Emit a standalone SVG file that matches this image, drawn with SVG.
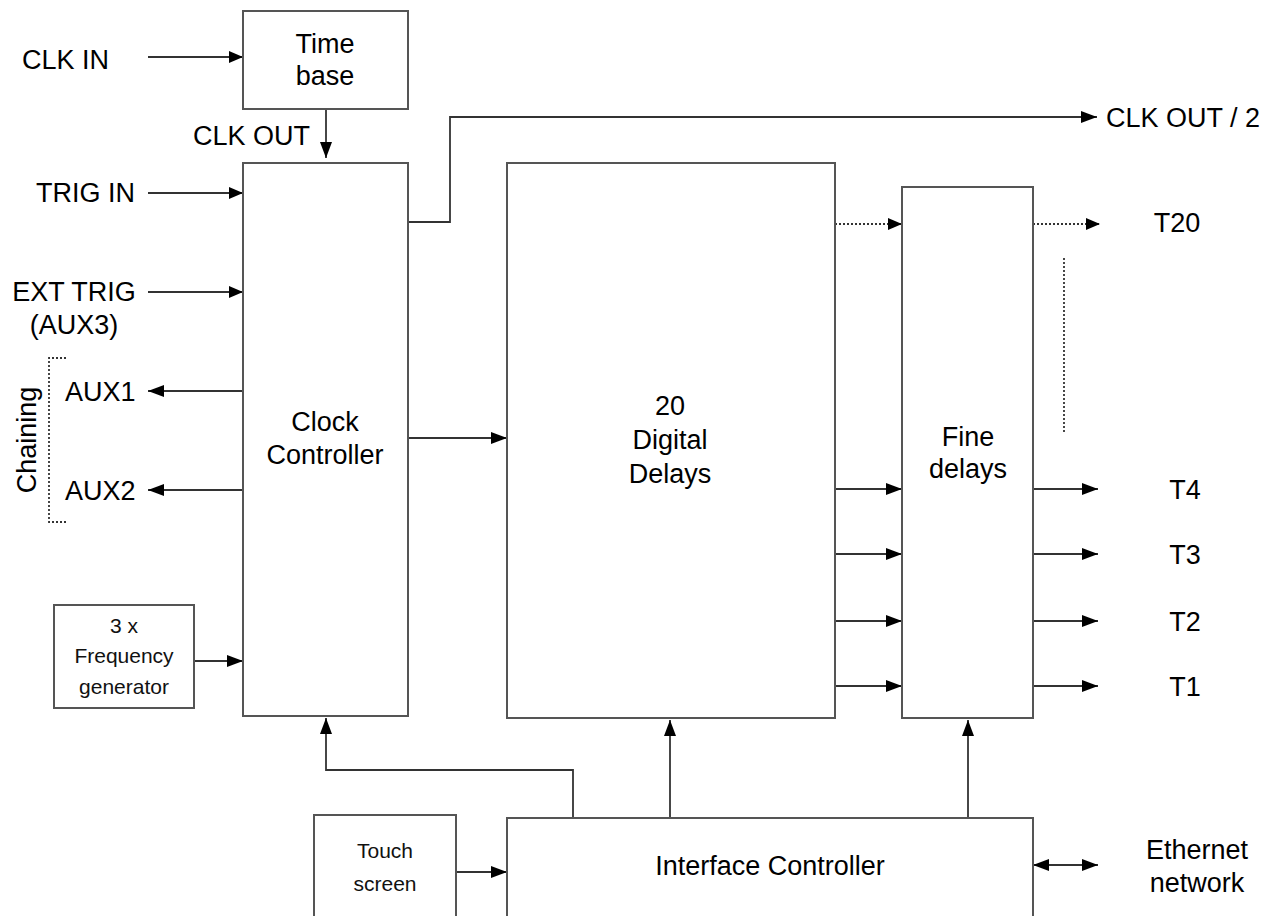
<svg xmlns="http://www.w3.org/2000/svg" width="1268" height="916" viewBox="0 0 1268 916">
<style>
.box{fill:#fff;stroke:#555;stroke-width:2}
.ln{fill:none;stroke:#333;stroke-width:1.8}
.dot{fill:none;stroke:#333;stroke-width:1.8;stroke-dasharray:2,2}
.t{font-family:"Liberation Sans",Arial,sans-serif;font-size:27px;fill:#000;text-anchor:middle}
.s{font-family:"Liberation Sans",Arial,sans-serif;font-size:21px;fill:#111;text-anchor:middle}
.l{font-family:"Liberation Sans",Arial,sans-serif;font-size:27px;fill:#000}
</style>
<defs>
<marker id="a" viewBox="0 0 16 12" refX="16" refY="6" markerWidth="16" markerHeight="12" markerUnits="userSpaceOnUse" orient="auto-start-reverse"><path d="M0,0 L16,6 L0,12 Z" fill="#000"/></marker>
<marker id="b" viewBox="0 0 14 12" refX="14" refY="6" markerWidth="14" markerHeight="12" markerUnits="userSpaceOnUse" orient="auto"><path d="M0,0 L14,6 L0,12 Z" fill="#000"/></marker>
</defs>
<rect width="1268" height="916" fill="#fff"/>

<g id="connectors">
<path class="ln" d="M148,57 H243" marker-end="url(#b)"/>
<path class="ln" d="M326,109 V158" marker-end="url(#a)"/>
<path class="ln" d="M148,193 H243" marker-end="url(#b)"/>
<path class="ln" d="M148,292 H243" marker-end="url(#b)"/>
<path class="ln" d="M243,391 H148" marker-end="url(#a)"/>
<path class="ln" d="M243,490 H148" marker-end="url(#a)"/>
<path class="ln" d="M194,661 H243" marker-end="url(#a)"/>
<path class="ln" d="M408,222 H450 V117 H1097" marker-end="url(#a)"/>
<path class="ln" d="M408,438 H507" marker-end="url(#a)"/>
<path class="dot" d="M835,224 H902" marker-end="url(#b)"/>
<path class="dot" d="M1033,224 H1100" marker-end="url(#b)"/>
<path class="dot" d="M1064,258 V432"/>
<path class="ln" d="M835,489 H902" marker-end="url(#a)"/>
<path class="ln" d="M835,554 H902" marker-end="url(#a)"/>
<path class="ln" d="M835,621 H902" marker-end="url(#a)"/>
<path class="ln" d="M835,686 H902" marker-end="url(#a)"/>
<path class="ln" d="M1033,489 H1098" marker-end="url(#a)"/>
<path class="ln" d="M1033,554 H1098" marker-end="url(#a)"/>
<path class="ln" d="M1033,621 H1098" marker-end="url(#a)"/>
<path class="ln" d="M1033,686 H1098" marker-end="url(#a)"/>
<path class="ln" d="M573,818 V770 H326 V718" marker-end="url(#a)"/>
<path class="ln" d="M670,818 V720" marker-end="url(#a)"/>
<path class="ln" d="M968,818 V720" marker-end="url(#a)"/>
<path class="ln" d="M456,872 H507" marker-end="url(#a)"/>
<path class="ln" d="M1033,865 H1098" marker-start="url(#a)" marker-end="url(#a)"/>
<path class="dot" d="M66,358 H49 V522 H66"/>
</g>

<g id="timebase"><rect class="box" x="243" y="11" width="165" height="98"/>
<text class="t" x="325" y="53">Time</text><text class="t" x="325" y="85">base</text></g>

<g id="clockcontroller"><rect class="box" x="243" y="163" width="165" height="553"/>
<text class="t" x="325" y="431">Clock</text><text class="t" x="325" y="464">Controller</text></g>

<g id="freqgen"><rect class="box" x="54" y="605" width="140" height="103"/>
<text class="s" x="124" y="633">3 x</text><text class="s" x="124" y="663">Frequency</text><text class="s" x="124" y="694">generator</text></g>

<g id="digitaldelays"><rect class="box" x="507" y="163" width="328" height="555"/>
<text class="t" x="670" y="415">20</text><text class="t" x="670" y="449">Digital</text><text class="t" x="670" y="483">Delays</text></g>

<g id="finedelays"><rect class="box" x="902" y="187" width="131" height="531"/>
<text class="t" x="968" y="446">Fine</text><text class="t" x="968" y="478">delays</text></g>

<g id="touchscreen"><rect class="box" x="314" y="815" width="142" height="110"/>
<text class="s" x="385" y="858">Touch</text><text class="s" x="385" y="891">screen</text></g>

<g id="interface"><rect class="box" x="507" y="818" width="526" height="110"/>
<text class="t" x="770" y="875">Interface Controller</text></g>

<g id="labels">
<text class="l" x="22" y="69">CLK IN</text>
<text class="l" x="193" y="145">CLK OUT</text>
<text class="l" x="36" y="202">TRIG IN</text>
<text class="t" x="74" y="301">EXT TRIG</text>
<text class="t" x="74" y="334">(AUX3)</text>
<text class="l" x="65" y="401">AUX1</text>
<text class="l" x="65" y="500">AUX2</text>
<text class="t" transform="translate(36,440) rotate(-90)">Chaining</text>
<text class="l" x="1106" y="127">CLK OUT / 2</text>
<text class="t" x="1177" y="232">T20</text>
<text class="t" x="1185" y="499">T4</text>
<text class="t" x="1185" y="564">T3</text>
<text class="t" x="1185" y="631">T2</text>
<text class="t" x="1185" y="696">T1</text>
<text class="t" x="1197" y="859">Ethernet</text>
<text class="t" x="1197" y="892">network</text>
</g>
</svg>
